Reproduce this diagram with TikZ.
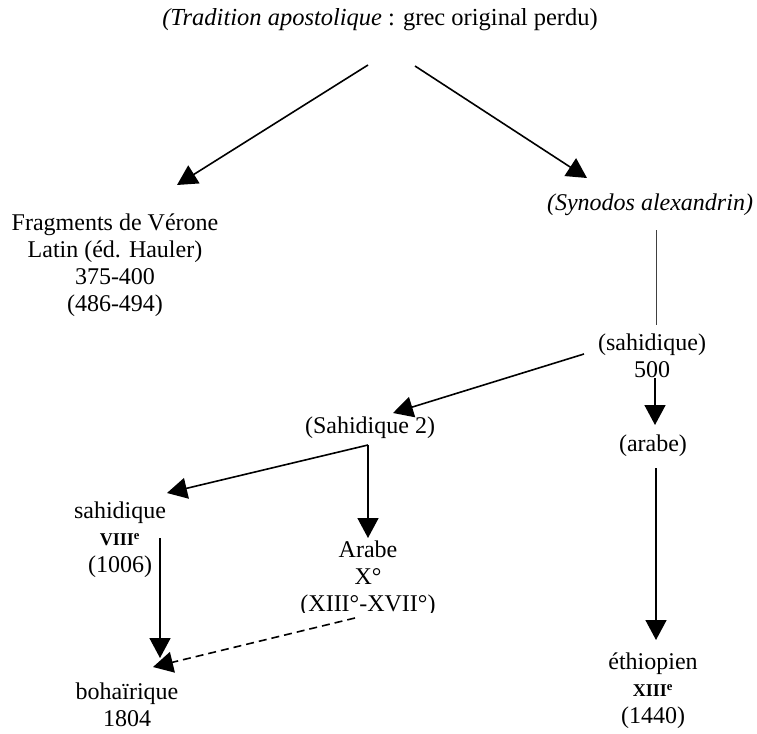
\documentclass[tikz,border=0pt]{standalone}
\usepackage{fontspec}
\setmainfont{Liberation Serif}
\usetikzlibrary{arrows.meta}
\tikzset{
  lbl/.style={inner sep=0pt, align=center, font=\fontsize{24}{27}\selectfont},
  arr/.style={line width=1.6pt, -{Triangle[length=20pt,width=21pt]}},
  plainln/.style={line width=0.9pt, draw=black!75},
  dsh/.style={arr, dash pattern=on 8pt off 5pt}
}
\newcommand{\smb}[1]{{\bfseries\fontsize{18}{20}\selectfont #1\textsuperscript{e}}}
\begin{document}
\begin{tikzpicture}[x=1pt,y=-1pt]
\useasboundingbox (0,0) rectangle (757,733);
% texts
\node[lbl, font=\fontsize{24.5}{27}\selectfont] (title) at (380,20) {\textit{(Tradition apostolique} : grec original perdu)};
\node[lbl] (frag) at (115,265) {Fragments de Vérone\\Latin (éd. Hauler)\\375-400\\(486-494)};
\node[lbl] (syn) at (650,205) {\textit{(Synodos alexandrin)}};
\node[lbl] (sah) at (652,356) {(sahidique)\\500};
\node[lbl] (sah2) at (370,428) {(Sahidique 2)};
\node[lbl] (arb) at (653,446) {(arabe)};
\node[lbl] (sahv) at (120,540) {sahidique\\\smb{VIII}\\(1006)};
\begin{scope}
\clip (290,525) rectangle (450,612);
\node[lbl] (arabx) at (368,579) {Arabe\\X°\\(XIII°-XVII°)};
\end{scope}
\node[lbl] (boh) at (127,705) {bohaïrique\\1804};
\node[lbl] (eth) at (653,691) {éthiopien\\\smb{XIII}\\(1440)};
% connector endpoints
\coordinate (t1s) at (368,65);
\coordinate (t1e) at (177,185);
\coordinate (t2s) at (415,66);
\coordinate (t2e) at (587,178);
\coordinate (sls) at (656,230);
\coordinate (sle) at (656,325);
\coordinate (s1s) at (584,354);
\coordinate (s1e) at (393,413);
\coordinate (s2s) at (655,378);
\coordinate (s2e) at (655,425);
\coordinate (a1s) at (656,468);
\coordinate (a1e) at (656,640);
\coordinate (bs) at (368,445);
\coordinate (bae) at (167,493);
\coordinate (bbe) at (368,538);
\coordinate (svs) at (160,538);
\coordinate (sve) at (160,658);
\coordinate (ds) at (355,618);
\coordinate (de) at (153,667);
% connectors
\draw[arr] (t1s) -- (t1e);
\draw[arr] (t2s) -- (t2e);
\draw[plainln] (sls) -- (sle);
\draw[arr] (s1s) -- (s1e);
\draw[arr] (s2s) -- (s2e);
\draw[arr] (a1s) -- (a1e);
\draw[arr] (bs) -- (bae);
\draw[arr] (bs) -- (bbe);
\draw[arr] (svs) -- (sve);
\draw[dsh] (ds) -- (de);
\end{tikzpicture}
\end{document}
